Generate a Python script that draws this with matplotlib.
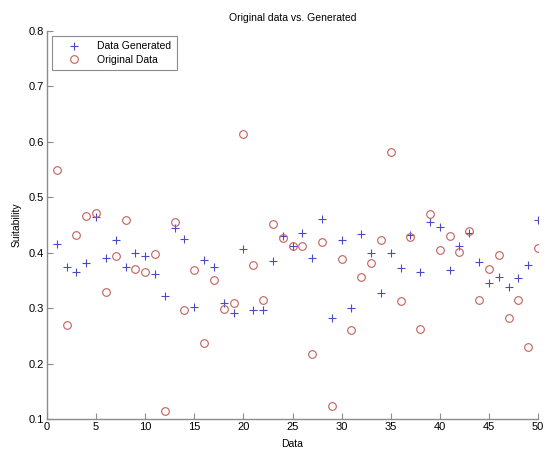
import matplotlib
matplotlib.use("Agg")
import matplotlib.pyplot as plt
import numpy as np

# sample index
data_idx = np.arange(1, 51)

# values
generated = [0.415, 0.375, 0.365, 0.381, 0.465, 0.390, 0.423, 0.375, 0.400, 0.394,
             0.362, 0.322, 0.445, 0.424, 0.302, 0.386, 0.375, 0.310, 0.292, 0.407,
             0.297, 0.297, 0.385, 0.430, 0.412, 0.435, 0.390, 0.461, 0.282, 0.423,
             0.300, 0.434, 0.400, 0.327, 0.400, 0.373, 0.432, 0.366, 0.455, 0.446,
             0.369, 0.413, 0.435, 0.383, 0.345, 0.357, 0.339, 0.354, 0.377, 0.459]
original = [0.550, 0.269, 0.432, 0.466, 0.472, 0.329, 0.394, 0.459, 0.370, 0.366,
            0.398, 0.115, 0.456, 0.296, 0.369, 0.237, 0.350, 0.299, 0.310, 0.615,
            0.378, 0.314, 0.451, 0.426, 0.412, 0.412, 0.218, 0.420, 0.123, 0.389,
            0.260, 0.357, 0.381, 0.423, 0.581, 0.313, 0.428, 0.262, 0.469, 0.405,
            0.431, 0.402, 0.440, 0.315, 0.371, 0.396, 0.283, 0.315, 0.230, 0.409]

plt.rcParams['font.family'] = ['Liberation Sans', 'DejaVu Sans']
plt.rcParams['font.size'] = 7.5

fig = plt.figure(figsize=(5.47, 4.49), dpi=100)
ax = fig.add_axes([47 / 547, 30 / 449, 491 / 547, 388 / 449])

axis_col = '#8c8c8c'
ax.plot(data_idx, generated, '+', color='#4a4ac8', markersize=6, markeredgewidth=0.8,
        label='Data Generated')
ax.plot(data_idx, original, 'o', color='#c2605c', markerfacecolor='none', markersize=5.5,
        markeredgewidth=0.8, label='Original Data')

ax.set_xlim(0, 50)
ax.set_ylim(0.1, 0.8)
ax.set_xticks(np.arange(0, 51, 5))
ax.set_yticks(np.arange(0.1, 0.81, 0.1))
ax.set_yticklabels([f"{v:.1f}" for v in np.arange(0.1, 0.81, 0.1)])

for side in ['top', 'right']:
    ax.spines[side].set_visible(False)
for side in ['left', 'bottom']:
    ax.spines[side].set_color(axis_col)
    ax.spines[side].set_linewidth(1.0)
ax.tick_params(direction='in', length=4, color=axis_col, width=0.8, pad=2, labelsize=8)

ax.set_title("Original data vs. Generated", fontsize=7.5, pad=7)
ax.set_xlabel("Data", fontsize=7.5, labelpad=5)
ax.set_ylabel("Suitability", fontsize=7.5, labelpad=5)

leg = ax.legend(loc='upper left', bbox_to_anchor=(0.01, 0.987), borderaxespad=0,
                fontsize=7.5, fancybox=False, framealpha=1, borderpad=0.5,
                handletextpad=0.65, labelspacing=0.35, handlelength=3.2)
leg.get_frame().set_edgecolor(axis_col)
leg.get_frame().set_linewidth(0.8)

fig.savefig("out.png", dpi=100)
